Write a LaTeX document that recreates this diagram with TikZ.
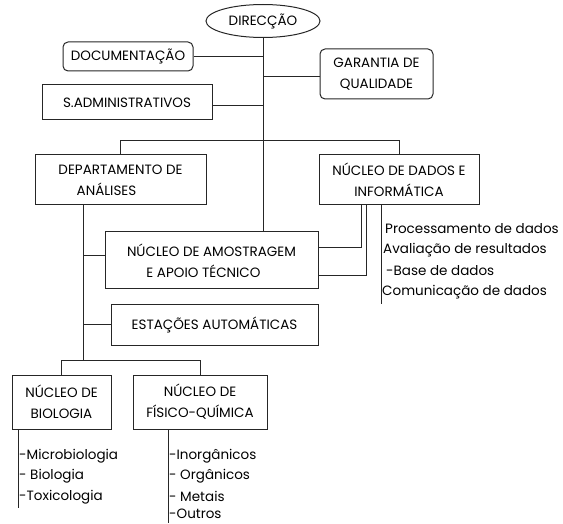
\documentclass[tikz,border=0pt]{standalone}
\usepackage{fontspec}
\setmainfont{Poppins}
\usetikzlibrary{shapes.geometric}

\tikzset{
  unit/.style={draw=black!85, line width=1pt, align=center, inner sep=1pt, font=\fontsize{13.5}{21}\selectfont},
  roundunit/.style={unit, rounded corners=5pt},
  item/.style={anchor=west, inner sep=0pt, font=\fontsize{13.5}{15}\selectfont},
  link/.style={draw=black!85, line width=1pt}
}

\begin{document}
\begin{tikzpicture}[x=1pt, y=-1pt]
             \useasboundingbox (0,0) rectangle (563,524);

             \node[unit, ellipse, minimum width=114pt, minimum height=33pt] (dir) at (263,21) {DIRECÇÃO};
             \node[roundunit, minimum width=130pt, minimum height=29pt] (doc) at (128,56.5) {DOCUMENTAÇÃO};
             \node[roundunit, minimum width=113pt, minimum height=50pt] (gar) at (376.5,74) {GARANTIA DE\\QUALIDADE};
             \node[unit, minimum width=170pt, minimum height=35pt] (adm) at (127,102.5) {S.ADMINISTRATIVOS};

             \node[unit, minimum width=171pt, minimum height=50pt] (dep) at (120.5,180) {DEPARTAMENTO DE\\ANÁLISES\hspace*{28pt}};
             \node[unit, minimum width=160pt, minimum height=50pt] (inf) at (399,180) {NÚCLEO DE DADOS E\\INFORMÁTICA};
             \node[unit, minimum width=213pt, minimum height=57pt] (amo) at (211.5,260.5) {NÚCLEO DE AMOSTRAGEM\\E APOIO TÉCNICO\hspace*{16pt}};
             \node[unit, minimum width=207pt, minimum height=41pt] (est) at (214.5,324.5) {ESTAÇÕES AUTOMÁTICAS};

             \node[unit, minimum width=99pt, minimum height=54pt] (bio) at (61.5,402) {NÚCLEO DE\\BIOLOGIA};
             \node[unit, minimum width=134pt, minimum height=54pt] (fq) at (200,402) {NÚCLEO DE\\FÍSICO-QUÍMICA};

             % direccao
             \draw[link] (dir.south) -- (dir.south |- amo.north);
             \draw[link] (doc.east) -- (doc.east -| dir.south);
             \draw[link] ([yshift=-3pt]gar.west) -- ([yshift=-3pt]gar.west -| dir.south);
             \draw[link] ([yshift=-3.5pt]adm.east) -- ([yshift=-3.5pt]adm.east -| dir.south);
             \draw[link] (dep.north) -- ++(0,-14) -| (inf.north);

             % departamento
             \coordinate (dl) at (83,360);
             \draw[link] (dep.south -| dl) -- (dl);
             \draw[link] (dl |- amo.west) ++(0,-5) -- ([yshift=5pt]amo.west);
             \draw[link] (dl |- est.west) -- (est.west);
             \draw[link] (bio.north) -- (bio.north |- dl) -| (fq.north);

             % dados e informatica
             \coordinate (i1) at (361,248);
             \coordinate (i2) at (366,276);
             \coordinate (i3) at (381,304);
             \draw[link] (inf.south -| i1) -- (i1) -- (amo.east |- i1);
             \draw[link] (inf.south -| i2) -- (i2) -- (amo.east |- i2);
             \draw[link] (inf.south -| i3) -- (i3);
             \node[item] (proc) at (385,229) {Processamento de dados};
             \node[item] (aval) at (383,250) {Avaliação de resultados};
             \node[item] (base) at (386,271) {-Base de dados};
             \node[item] (comu) at (382,292) {Comunicação de dados};

             % biologia
             \coordinate (b1) at (18,508);
             \draw[link] (bio.south -| b1) -- (b1);
             \node[item] (micro) at (19,456) {-Microbiologia};
             \node[item] (biol) at (19,476) {- Biologia};
             \node[item] (toxi) at (19,497) {-Toxicologia};

             % fisico-quimica
             \coordinate (f1) at (168,523);
             \draw[link] (fq.south -| f1) -- (f1);
             \node[item] (inor) at (169,456) {-Inorgânicos};
             \node[item] (orga) at (169,476) {- Orgânicos};
             \node[item] (meta) at (169,496) {- Metais};
             \node[item] (outr) at (169,514) {-Outros};
             \end{tikzpicture}
\end{document}
